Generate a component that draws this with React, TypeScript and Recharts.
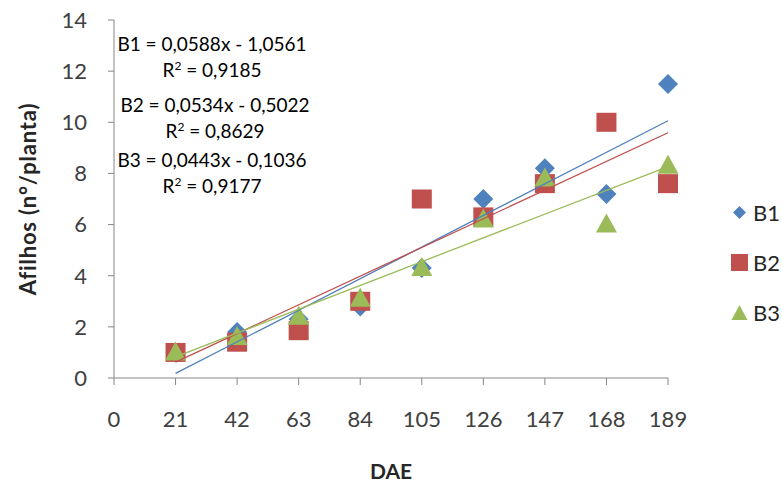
import { Label, Scatter, ScatterChart, XAxis, YAxis } from "recharts";

const dae = [21, 42, 63, 84, 105, 126, 147, 168, 189];
const b1 = [1.0, 1.8, 2.3, 2.8, 4.3, 7.0, 8.2, 7.2, 11.5];
const b2 = [1.0, 1.4, 1.85, 3.0, 7.0, 6.3, 7.6, 10.0, 7.6];
const b3 = [1.0, 1.6, 2.4, 3.1, 4.3, 6.2, 7.8, 6.0, 8.3];

// trend line end points (x = 21 and x = 189)
const trendX = [21, 189];
const trendB1 = [0.18, 10.06];
const trendB2 = [0.62, 9.59];
const trendB3 = [0.83, 8.27];

const xTicks = [0, 21, 42, 63, 84, 105, 126, 147, 168, 189];
const yTicks = [0, 2, 4, 6, 8, 10, 12, 14];

const equations = [
  { eq: "B1 = 0,0588x - 1,0561", r2: "0,9185" },
  { eq: "B2 = 0,0534x - 0,5022", r2: "0,8629" },
  { eq: "B3 = 0,0443x - 0,1036", r2: "0,9177" },
];

const BLUE = "#4F81BD";
const RED = "#C0504D";
const GREEN = "#9BBB59";
const FONT = "Lato, 'Open Sans', sans-serif";

const toPoints = (xs: number[], ys: number[]) => xs.map((x, i) => ({ x, y: ys[i] }));

const Diamond = (p: any) => (
  <path
    d={`M${p.cx},${p.cy - 10}L${p.cx + 10},${p.cy}L${p.cx},${p.cy + 10}L${p.cx - 10},${p.cy}Z`}
    fill={BLUE}
  />
);
const Square = (p: any) => (
  <rect x={p.cx - 10} y={p.cy - 9.5} width={20} height={19} fill={RED} />
);
const Triangle = (p: any) => (
  <path
    d={`M${p.cx},${p.cy - 11}L${p.cx + 10.5},${p.cy + 8}L${p.cx - 10.5},${p.cy + 8}Z`}
    fill={GREEN}
  />
);
const Nothing = () => <g />;

const legendItems = [
  { name: "B1", color: BLUE, top: 199, icon: "M8.5,2L15,8.5L8.5,15L2,8.5Z" },
  { name: "B2", color: RED, top: 249, icon: "M0,0H17V17H0Z" },
  { name: "B3", color: GREEN, top: 299, icon: "M8.5,1L16.5,16H0.5Z" },
];

const eqTops = [31, 92, 147];

// x axis title, sits near the bottom of the axis area
const DaeLabel = ({ viewBox }: any) => (
  <text
    x={viewBox.x + viewBox.width / 2}
    y={viewBox.y + viewBox.height - 7}
    textAnchor="middle"
    fontSize={21}
    fontWeight={700}
    fill="#262626"
    fontFamily={FONT}
  >
    DAE
  </text>
);

export default function App() {
  const tickStyle = { fontSize: 22, fill: "#404040", fontFamily: FONT };

  return (
    <div
      style={{
        position: "absolute",
        left: 0,
        top: 0,
        width: 782,
        height: 486,
        background: "#fff",
        fontFamily: FONT,
      }}
    >
      <ScatterChart width={782} height={486} margin={{ top: 20, right: 114, bottom: 0, left: 0 }}>
        <XAxis
          type="number"
          dataKey="x"
          domain={[0, 189]}
          ticks={xTicks}
          height={108}
          tick={tickStyle}
          tickSize={7}
          tickMargin={26}
          stroke="#868686"
          tickLine={{ stroke: "#868686" }}
        >
          <Label position="insideBottom" content={DaeLabel} />
        </XAxis>
        <YAxis
          type="number"
          dataKey="y"
          domain={[0, 14]}
          ticks={yTicks}
          width={114}
          tick={tickStyle}
          tickSize={6}
          tickMargin={21}
          stroke="#868686"
          tickLine={{ stroke: "#868686" }}
        >
          <Label
            value="Afilhos (n°/planta)"
            angle={-90}
            position="insideLeft"
            offset={28}
            style={{
              fontSize: 22,
              fontWeight: 700,
              letterSpacing: 0.8,
              fill: "#262626",
              fontFamily: FONT,
              textAnchor: "middle",
            }}
          />
        </YAxis>
        <Scatter name="B1" data={toPoints(dae, b1)} shape={Diamond} isAnimationActive={false} />
        <Scatter name="B2" data={toPoints(dae, b2)} shape={Square} isAnimationActive={false} />
        <Scatter name="B3" data={toPoints(dae, b3)} shape={Triangle} isAnimationActive={false} />
        <Scatter
          data={toPoints(trendX, trendB1)}
          line={{ stroke: BLUE, strokeWidth: 1.3 }}
          shape={Nothing}
          legendType="none"
          isAnimationActive={false}
        />
        <Scatter
          data={toPoints(trendX, trendB2)}
          line={{ stroke: RED, strokeWidth: 1.3 }}
          shape={Nothing}
          legendType="none"
          isAnimationActive={false}
        />
        <Scatter
          data={toPoints(trendX, trendB3)}
          line={{ stroke: GREEN, strokeWidth: 1.3 }}
          shape={Nothing}
          legendType="none"
          isAnimationActive={false}
        />
      </ScatterChart>

      {equations.map((e, i) => (
        <div
          key={e.eq}
          style={{
            position: "absolute",
            left: 92 + (i === 1 ? 3 : 0),
            top: eqTops[i],
            width: 240,
            textAlign: "center",
            fontSize: 19,
            lineHeight: "25.5px",
            color: "#000",
          }}
        >
          <div>{e.eq}</div>
          <div>
            R<sup style={{ fontSize: 12, verticalAlign: "7px", lineHeight: 0 }}>2</sup> = {e.r2}
          </div>
        </div>
      ))}

      {legendItems.map((l) => (
        <div
          key={l.name}
          style={{
            position: "absolute",
            left: 731,
            top: l.top,
            display: "flex",
            alignItems: "center",
            fontSize: 22,
            color: "#262626",
          }}
        >
          <svg width={17} height={17} style={{ overflow: "visible" }}>
            <path d={l.icon} fill={l.color} />
          </svg>
          <span style={{ marginLeft: 5 }}>{l.name}</span>
        </div>
      ))}
    </div>
  );
}
